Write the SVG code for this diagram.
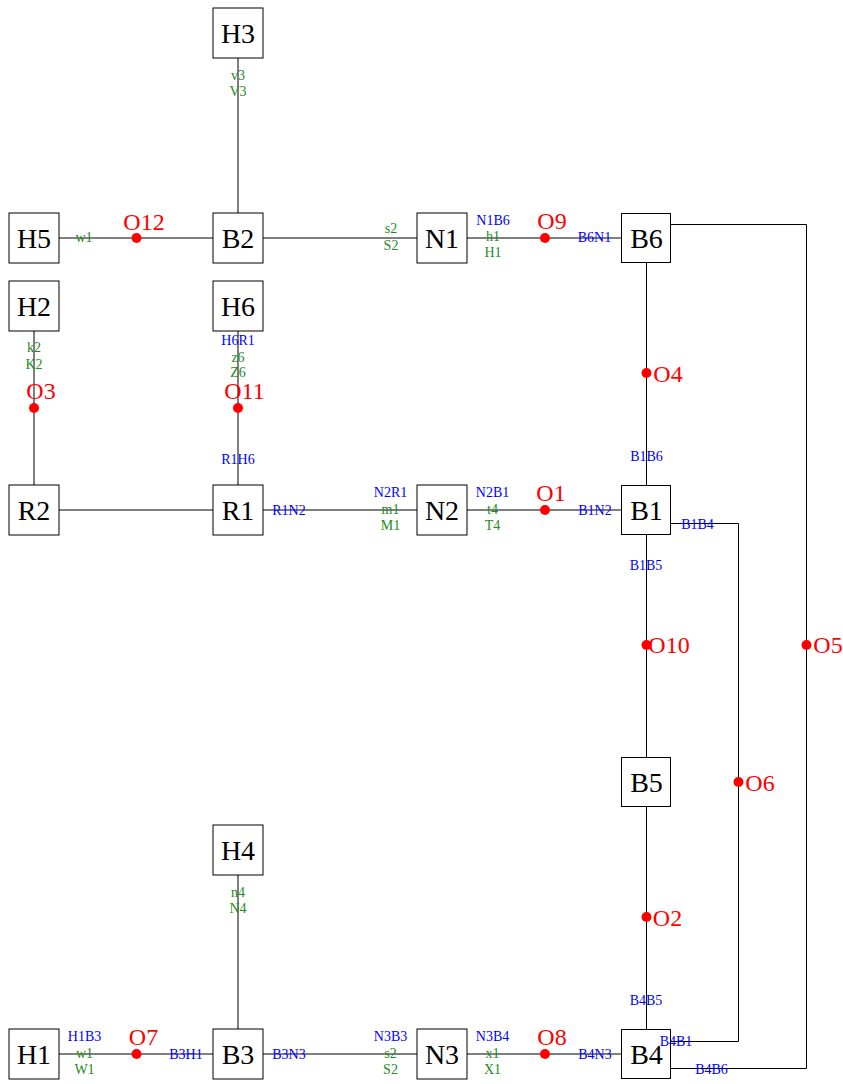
<svg xmlns="http://www.w3.org/2000/svg" width="843" height="1084" viewBox="0 0 843 1084">
<style>
.bg{fill:#ffffff}
.box{fill:#ffffff;stroke:#000;stroke-width:1}
.nl{font-family:"Liberation Serif","Times New Roman",serif;font-size:28px;fill:#000;text-anchor:middle}
.ln{fill:none;stroke:#000;stroke-width:1}
.g{font-family:"Liberation Serif","Times New Roman",serif;font-size:14px;fill:#228B22;text-anchor:middle}
.b{font-family:"Liberation Serif","Times New Roman",serif;font-size:14px;fill:#0000FF;text-anchor:middle}
.o{font-family:"Liberation Serif","Times New Roman",serif;font-size:24px;fill:#FF0000;text-anchor:middle}
.dot{fill:#FF0000}
</style>
<rect class="bg" x="0" y="0" width="843" height="1084"/>
<g id="connectors">
<path class="ln" d="M238,58 V213"/>
<path class="ln" d="M59,238 H213"/>
<path class="ln" d="M263,238 H417"/>
<path class="ln" d="M467,238 H621"/>
<path class="ln" d="M646.5,263 V485"/>
<path class="ln" d="M671,224.5 H806.5 V1068.5 H671"/>
<path class="ln" d="M34,331 V485"/>
<path class="ln" d="M238,331 V485"/>
<path class="ln" d="M59,510 H213"/>
<path class="ln" d="M263,510 H417"/>
<path class="ln" d="M467,510 H621"/>
<path class="ln" d="M671,523.5 H738.5 V1041.5 H671"/>
<path class="ln" d="M646.5,535 V757"/>
<path class="ln" d="M646.5,807 V1029"/>
<path class="ln" d="M238,875 V1029"/>
<path class="ln" d="M59,1054 H213"/>
<path class="ln" d="M263,1054 H417"/>
<path class="ln" d="M467,1054 H621"/>
<circle class="dot" cx="136.5" cy="238" r="5"/>
<circle class="dot" cx="545" cy="238" r="5"/>
<circle class="dot" cx="646.5" cy="373" r="5"/>
<circle class="dot" cx="806.5" cy="645" r="5"/>
<circle class="dot" cx="34" cy="408" r="5"/>
<circle class="dot" cx="238" cy="408" r="5"/>
<circle class="dot" cx="545" cy="510" r="5"/>
<circle class="dot" cx="646.5" cy="645" r="5"/>
<circle class="dot" cx="738.5" cy="782" r="5"/>
<circle class="dot" cx="646.5" cy="917" r="5"/>
<circle class="dot" cx="136.5" cy="1054" r="5"/>
<circle class="dot" cx="545" cy="1054" r="5"/>
</g>
<g id="H3"><rect class="box" x="213" y="8" width="50" height="50"/><text class="nl" x="238" y="43">H3</text></g>
<g id="H5"><rect class="box" x="9" y="213" width="50" height="50"/><text class="nl" x="34" y="248">H5</text></g>
<g id="B2"><rect class="box" x="213" y="213" width="50" height="50"/><text class="nl" x="238" y="248">B2</text></g>
<g id="N1"><rect class="box" x="417" y="213" width="50" height="50"/><text class="nl" x="442" y="248">N1</text></g>
<g id="B6"><rect class="box" x="621.5" y="213.5" width="49" height="49"/><text class="nl" x="646.5" y="248">B6</text></g>
<g id="H2"><rect class="box" x="9" y="281" width="50" height="50"/><text class="nl" x="34" y="316">H2</text></g>
<g id="H6"><rect class="box" x="213" y="281" width="50" height="50"/><text class="nl" x="238" y="316">H6</text></g>
<g id="R2"><rect class="box" x="9" y="485" width="50" height="50"/><text class="nl" x="34" y="520">R2</text></g>
<g id="R1"><rect class="box" x="213" y="485" width="50" height="50"/><text class="nl" x="238" y="520">R1</text></g>
<g id="N2"><rect class="box" x="417" y="485" width="50" height="50"/><text class="nl" x="442" y="520">N2</text></g>
<g id="B1"><rect class="box" x="621.5" y="485.5" width="49" height="49"/><text class="nl" x="646.5" y="520">B1</text></g>
<g id="B5"><rect class="box" x="621.5" y="757.5" width="49" height="49"/><text class="nl" x="646.5" y="792">B5</text></g>
<g id="H4"><rect class="box" x="213" y="825" width="50" height="50"/><text class="nl" x="238" y="860">H4</text></g>
<g id="H1"><rect class="box" x="9" y="1029" width="50" height="50"/><text class="nl" x="34" y="1064">H1</text></g>
<g id="B3"><rect class="box" x="213" y="1029" width="50" height="50"/><text class="nl" x="238" y="1064">B3</text></g>
<g id="N3"><rect class="box" x="417" y="1029" width="50" height="50"/><text class="nl" x="442" y="1064">N3</text></g>
<g id="B4"><rect class="box" x="621.5" y="1029.5" width="49" height="49"/><text class="nl" x="646.5" y="1064">B4</text></g>
<g id="connector-labels">
<text class="o" x="144" y="230">O12</text>
<text class="o" x="552" y="229">O9</text>
<text class="o" x="668" y="382">O4</text>
<text class="o" x="828" y="653">O5</text>
<text class="o" x="41" y="399">O3</text>
<text class="o" x="244.5" y="399">O11</text>
<text class="o" x="551" y="501">O1</text>
<text class="o" x="669" y="653">O10</text>
<text class="o" x="760" y="791">O6</text>
<text class="o" x="667.5" y="926">O2</text>
<text class="o" x="143.5" y="1045">O7</text>
<text class="o" x="552" y="1045">O8</text>
<text class="g" x="238" y="80">v3</text>
<text class="g" x="238" y="96">V3</text>
<text class="g" x="84" y="242">w1</text>
<text class="g" x="391" y="233">s2</text>
<text class="g" x="391" y="250">S2</text>
<text class="b" x="493" y="225">N1B6</text>
<text class="g" x="493" y="241">h1</text>
<text class="g" x="493" y="257">H1</text>
<text class="b" x="594.5" y="242">B6N1</text>
<text class="b" x="646.5" y="461">B1B6</text>
<text class="g" x="34" y="352">k2</text>
<text class="g" x="34" y="369">K2</text>
<text class="b" x="238" y="345">H6R1</text>
<text class="g" x="238" y="362">z6</text>
<text class="g" x="238" y="377">Z6</text>
<text class="b" x="238" y="464">R1H6</text>
<text class="b" x="289" y="515">R1N2</text>
<text class="b" x="390.5" y="497">N2R1</text>
<text class="g" x="390.5" y="514">m1</text>
<text class="g" x="390.5" y="530">M1</text>
<text class="b" x="492.5" y="497">N2B1</text>
<text class="g" x="492.5" y="514">t4</text>
<text class="g" x="492.5" y="530">T4</text>
<text class="b" x="595" y="515">B1N2</text>
<text class="b" x="697.5" y="529">B1B4</text>
<text class="b" x="646" y="570">B1B5</text>
<text class="b" x="646" y="1005">B4B5</text>
<text class="b" x="676" y="1046">B4B1</text>
<text class="b" x="711.5" y="1074">B4B6</text>
<text class="g" x="238" y="897">n4</text>
<text class="g" x="238" y="913">N4</text>
<text class="b" x="84.5" y="1041">H1B3</text>
<text class="g" x="84.5" y="1058">w1</text>
<text class="g" x="84.5" y="1074">W1</text>
<text class="b" x="186" y="1059">B3H1</text>
<text class="b" x="289" y="1059">B3N3</text>
<text class="b" x="390.5" y="1041">N3B3</text>
<text class="g" x="390.5" y="1058">s2</text>
<text class="g" x="390.5" y="1074">S2</text>
<text class="b" x="492.5" y="1041">N3B4</text>
<text class="g" x="492.5" y="1058">x1</text>
<text class="g" x="492.5" y="1074">X1</text>
<text class="b" x="595" y="1059">B4N3</text>
</g>
</svg>
